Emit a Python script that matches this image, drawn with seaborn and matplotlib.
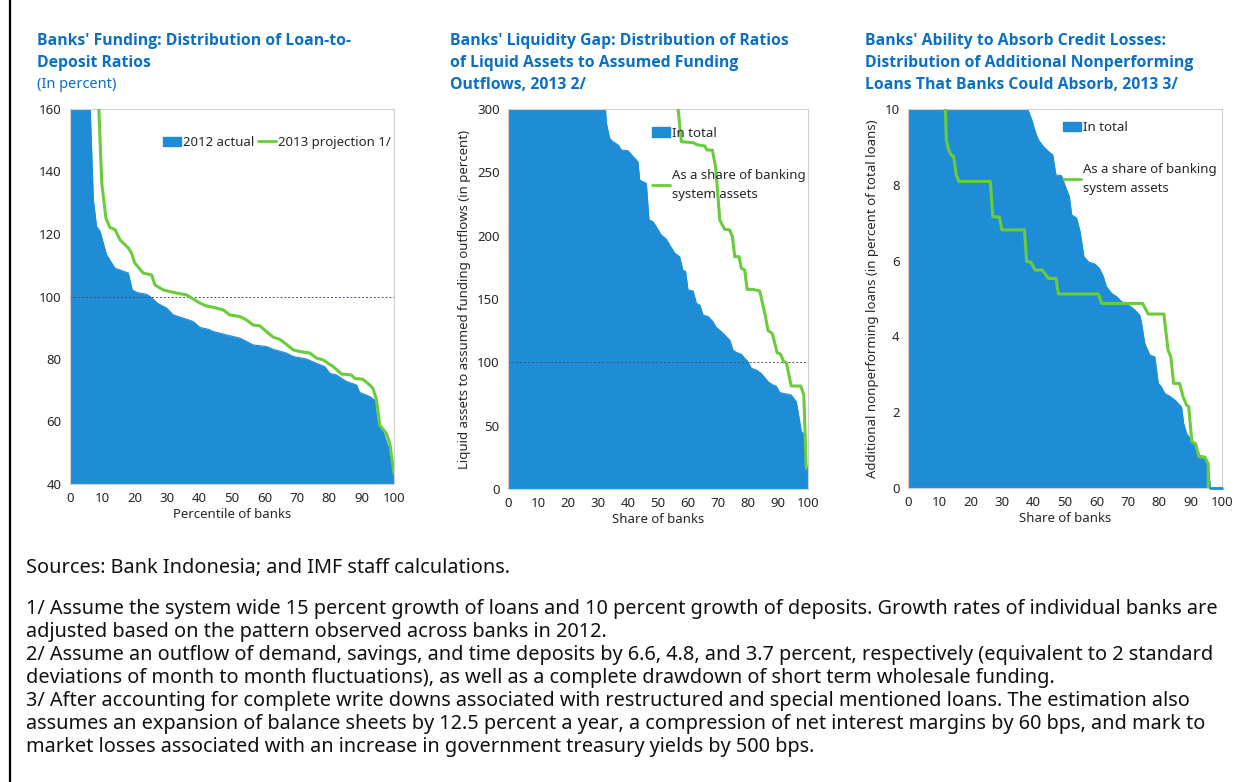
import matplotlib
matplotlib.use("Agg")
import matplotlib.pyplot as plt
import seaborn as sns
import pandas as pd
from matplotlib.patches import Patch
from matplotlib.lines import Line2D

# Panel 1: loan-to-deposit ratios (percentile of banks, percent)
ldr_actual_x = [0, 5.9, 7.2, 8.2, 9.3, 10.3, 11.3, 12.3, 13.9, 15.4, 18.0, 18.5, 19.2, 20.6, 23.6,
                24.7, 27.2, 29.8, 31.9, 34.9, 38.0, 40.1, 42.7, 44.2, 48.3, 52.4, 54.5, 56.5, 60.6,
                62.7, 66.8, 68.9, 73.0, 76.1, 78.6, 80.2, 82.2, 85.3, 88.4, 89.4, 92.5, 94.0, 94.9,
                96.6, 98.2, 100]
ldr_actual_y = [200, 170, 131, 122.4, 120.8, 117, 113.3, 111.7, 109, 108.5, 107.5, 105.3, 102.1,
                101.3, 100.7, 100, 97.7, 96.3, 94.1, 93.1, 92, 90.1, 89.5, 88.8, 87.7, 86.7, 85.6,
                84.5, 84, 83.1, 81.9, 80.8, 80, 78.6, 77.6, 75.4, 74.9, 72.8, 71.7, 69.3, 68, 66.9,
                59.4, 56.8, 52, 43.4]
ldr_proj_x = [8.5, 8.9, 9.8, 11.1, 12.3, 13.9, 15.4, 18.0, 19.0, 20.0, 22.6, 25.2, 26.2, 28.8,
              31.9, 36.0, 40.1, 42.1, 45.2, 47.3, 49.3, 52.4, 54.5, 56.5, 58.6, 60.6, 62.7, 64.7,
              66.3, 68.9, 70.9, 74.0, 76.1, 78.1, 79.7, 81.2, 83.8, 86.8, 87.9, 90.4, 92.5, 93.5,
              94.6, 95.6, 97.6, 98.7, 100]
ldr_proj_y = [180, 160, 136.3, 125, 122.1, 121.4, 118.2, 115.5, 113.9, 110.7, 107.5, 106.9, 103.7,
              102.1, 101.3, 100.5, 97.9, 97, 96.3, 95.7, 94.1, 93.6, 92.5, 90.9, 90.6, 88.8, 87,
              86.3, 85.1, 82.9, 82.4, 81.9, 80.3, 79.7, 78.6, 77.6, 75.2, 74.9, 73.8, 73.5, 71.7,
              70.6, 66.9, 58.9, 56.2, 53, 43.4]

# Panel 2: liquid assets to assumed funding outflows (share of banks, percent)
liq_total_x = [0, 32.2, 32.8, 33.9, 35.0, 36.7, 37.8, 40.0, 41.7, 43.3, 43.9, 46.1, 47.0, 48.3,
               49.4, 51.1, 52.8, 53.9, 55.6, 57.2, 58.3, 59.2, 60.0, 61.7, 62.8, 63.9, 65.0, 66.7,
               68.3, 69.4, 71.1, 72.2, 73.9, 75.0, 76.1, 77.8, 78.9, 80.0, 81.1, 82.8, 84.4, 86.7,
               88.3, 89.4, 90.6, 92.8, 94.4, 96.1, 97.8, 98.9, 99.4, 100]
liq_total_y = [330, 310, 288.7, 276.8, 274.2, 271.6, 267.6, 267.1, 262.4, 258.4, 243.9, 241.3,
               212.4, 211.1, 207.1, 200.5, 197.1, 192.6, 186.1, 183.4, 172.9, 171.6, 157.1, 156.3,
               146.6, 145.3, 137.4, 136.1, 132.1, 127.6, 124.2, 121.6, 117.6, 109.7, 107.9, 106.3,
               103.2, 100.5, 95.3, 93.9, 91.3, 84.7, 82.1, 81.3, 76.1, 75, 74.2, 68.9, 45.3, 42.6,
               17.6, 17]
liq_share_x = [56.3, 56.7, 57.8, 61.7, 63.3, 65.6, 66.3, 68.1, 69.2, 70.6, 72.2, 73.9, 74.8, 75.6,
               77.0, 77.8, 78.9, 79.7, 81.7, 83.9, 85.6, 86.7, 88.1, 89.7, 90.8, 91.9, 92.8, 94.4,
               97.6, 98.6, 99.4]
liq_share_y = [320, 300, 274.2, 273.4, 271.6, 270.8, 267.6, 267.6, 254.5, 212.4, 205, 204.5,
               199.2, 183.4, 183.4, 174.2, 172.9, 157.6, 157.6, 156.3, 138.7, 125, 122.9, 107.6,
               106.6, 100.5, 99.7, 81.3, 81.3, 74.2, 16.3]

# Panel 3: additional NPLs banks could absorb (share of banks, percent of total loans)
npl_total_x = [0, 38.1, 39.4, 40.5, 41.5, 43.1, 44.7, 46.1, 47.1, 48.9, 50.5, 51.4, 52.1, 53.7,
               54.8, 56.0, 57.4, 59.5, 60.9, 62.2, 63.2, 64.8, 66.4, 68.0, 70.7, 72.2, 73.8, 74.4,
               75.4, 77.0, 78.6, 79.7, 80.7, 81.8, 83.4, 85.0, 86.5, 87.1, 87.8, 88.7, 90.3, 91.6,
               92.9, 94.5, 95.6, 96.3, 100]
npl_total_y = [11, 10, 9.72, 9.41, 9.19, 9.01, 8.88, 8.79, 8.26, 8.24, 7.87, 7.69, 7.21, 7.12,
               6.77, 6.11, 5.97, 5.91, 5.8, 5.58, 5.31, 5.14, 5.05, 4.92, 4.8, 4.7, 4.56, 4.34,
               3.81, 3.51, 3.46, 2.76, 2.67, 2.49, 2.42, 2.32, 2.19, 2.14, 1.7, 1.44, 1.26, 1.13,
               0.86, 0.82, 0.64, 0, 0]
npl_share_x = [11.7, 11.9, 12.2, 12.9, 13.7, 14.5, 15.4, 16.2, 26.2, 27.0, 29.1, 29.9, 37.1, 37.8,
               39.1, 40.5, 42.8, 44.7, 47.1, 47.9, 60.6, 61.7, 74.7, 76.5, 81.5, 82.8, 83.7, 84.6,
               86.5, 87.6, 88.7, 89.4, 90.4, 91.6, 92.7, 94.5, 95.6, 95.6]
npl_share_y = [10.5, 10, 9.19, 8.93, 8.79, 8.75, 8.26, 8.09, 8.09, 7.16, 7.15, 6.81, 6.81, 5.97,
               5.96, 5.75, 5.75, 5.53, 5.53, 5.12, 5.12, 4.87, 4.87, 4.59, 4.59, 3.64, 3.46, 2.76,
               2.76, 2.41, 2.19, 2.14, 1.22, 1.17, 0.82, 0.82, 0.64, 0]

BLUE = "#1f8dd6"
GREEN = "#6acc3a"
TITLE_BLUE = "#0b6fc4"
TEXT = "#262626"

sns.set_style("white")
plt.rcParams["font.family"] = ["Noto Sans", "DejaVu Sans"]

fig = plt.figure(figsize=(12.44, 7.82), dpi=100)
W, H = 1244, 782


def px_axes(left, top, right, bottom):
    return fig.add_axes([left / W, 1 - bottom / H, (right - left) / W, (bottom - top) / H])


def style_axes(ax, ylim, yticks):
    ax.set_xlim(0, 100)
    ax.set_ylim(*ylim)
    ax.set_xticks(range(0, 101, 10))
    ax.set_yticks(yticks)
    ax.tick_params(axis="both", length=0, labelsize=9.5, colors=TEXT, pad=6)
    for s in ax.spines.values():
        s.set_color("#d0d0d0")
        s.set_linewidth(0.8)
    ax.grid(False)


def area(ax, x, y, base):
    df = pd.DataFrame({"x": x, "y": y})
    ax.fill_between(df["x"], base, df["y"], color=BLUE, linewidth=0, zorder=1)
    sns.lineplot(data=df, x="x", y="y", ax=ax, color=BLUE, linewidth=0.8, estimator=None,
                 sort=False, zorder=1)


def green(ax, x, y):
    df = pd.DataFrame({"x": x, "y": y})
    sns.lineplot(data=df, x="x", y="y", ax=ax, color=GREEN, linewidth=2.2, estimator=None,
                 sort=False, zorder=3)


def legend_handles():
    return [Patch(color=BLUE), Line2D([0], [0], color=GREEN, lw=2)]


# Panel 1
ax1 = px_axes(70, 109, 394, 484)
area(ax1, ldr_actual_x, ldr_actual_y, 40)
green(ax1, ldr_proj_x, ldr_proj_y)
ax1.axhline(100, color="#44546a", linestyle=(0, (2, 2)), linewidth=0.7, zorder=2)
style_axes(ax1, (40, 160), range(40, 161, 20))
ax1.set_xlabel("Percentile of banks", fontsize=9.5, color=TEXT, labelpad=2)
ax1.set_ylabel("")
ax1.legend(legend_handles(), ["2012 actual", "2013 projection 1/"], ncol=2, frameon=False,
           fontsize=9.5, loc="upper left", bbox_to_anchor=(0.25, 0.96), handlelength=1.4,
           handletextpad=0.1, columnspacing=0.3, labelcolor=TEXT)

# Panel 2
ax2 = px_axes(508, 109, 808, 489)
area(ax2, liq_total_x, liq_total_y, 0)
green(ax2, liq_share_x, liq_share_y)
ax2.axhline(100, color="#44546a", linestyle=(0, (2, 2)), linewidth=0.7, zorder=2)
style_axes(ax2, (0, 300), range(0, 301, 50))
ax2.set_xlabel("Share of banks", fontsize=9.5, color=TEXT, labelpad=2)
ax2.set_ylabel("Liquid assets to assumed funding outflows (in percent)", fontsize=9.5,
               color=TEXT, labelpad=4)
leg2 = ax2.legend(legend_handles(), ["In total", "As a share of banking\nsystem assets"],
                  frameon=False, fontsize=9.5, loc="upper left", bbox_to_anchor=(0.44, 0.985),
                  handlelength=1.4, handletextpad=0.1, labelspacing=2.2, labelcolor=TEXT)
leg2.get_texts()[1].set_linespacing(1.6)

# Panel 3
ax3 = px_axes(908, 109, 1222, 488)
area(ax3, npl_total_x, npl_total_y, 0)
ax3.plot([96.3, 100], [0, 0], color=BLUE, linewidth=2, zorder=4, clip_on=False)
green(ax3, npl_share_x, npl_share_y)
style_axes(ax3, (0, 10), range(0, 11, 2))
ax3.set_xlabel("Share of banks", fontsize=9.5, color=TEXT, labelpad=2)
ax3.set_ylabel("Additional nonperforming loans (in percent of total loans)", fontsize=9.5,
               color=TEXT, labelpad=4)
leg3 = ax3.legend(legend_handles(), ["In total", "As a share of banking\nsystem assets"],
                  frameon=False, fontsize=9.5, loc="upper left", bbox_to_anchor=(0.455, 1.0),
                  handlelength=1.4, handletextpad=0.1, labelspacing=2.2, labelcolor=TEXT)
leg3.get_texts()[1].set_linespacing(1.6)

# panel titles
titles = [
    (37, ["Banks' Funding: Distribution of Loan-to-", "Deposit Ratios"]),
    (450, ["Banks' Liquidity Gap: Distribution of Ratios", "of Liquid Assets to Assumed Funding",
           "Outflows, 2013 2/"]),
    (865, ["Banks' Ability to Absorb Credit Losses:", "Distribution of Additional Nonperforming",
           "Loans That Banks Could Absorb, 2013 3/"]),
]
for x, lines in titles:
    for i, line in enumerate(lines):
        fig.text(x / W, 1 - (41 + 22 * i) / H, line, fontsize=11.3, fontweight="bold",
                 family=["Open Sans", "DejaVu Sans"], color=TITLE_BLUE, va="center", ha="left")
fig.text(37 / W, 1 - 85 / H, "(In percent)", fontsize=10.5, color=TITLE_BLUE, va="center")

# footnotes
notes = [
    (568, "Sources: Bank Indonesia; and IMF staff calculations."),
    (609, "1/ Assume the system wide 15 percent growth of loans and 10 percent growth of deposits. "
          "Growth rates of individual banks are"),
    (632, "adjusted based on the pattern observed across banks in 2012."),
    (655, "2/ Assume an outflow of demand, savings, and time deposits by 6.6, 4.8, and 3.7 percent, "
          "respectively (equivalent to 2 standard"),
    (678, "deviations of month to month fluctuations), as well as a complete drawdown of short "
          "term wholesale funding."),
    (701, "3/ After accounting for complete write downs associated with restructured and special "
          "mentioned loans. The estimation also"),
    (724, "assumes an expansion of balance sheets by 12.5 percent a year, a compression of net "
          "interest margins by 60 bps, and mark to"),
    (747, "market losses associated with an increase in government treasury yields by 500 bps."),
]
for y, line in notes:
    fig.text(26 / W, 1 - y / H, line, fontsize=14.35, color="#111111", va="center", ha="left")

# left frame line
fig.add_artist(Line2D([10 / W, 10 / W], [0, 1], color="black", linewidth=1.6))

fig.savefig("out.png", dpi=100)
